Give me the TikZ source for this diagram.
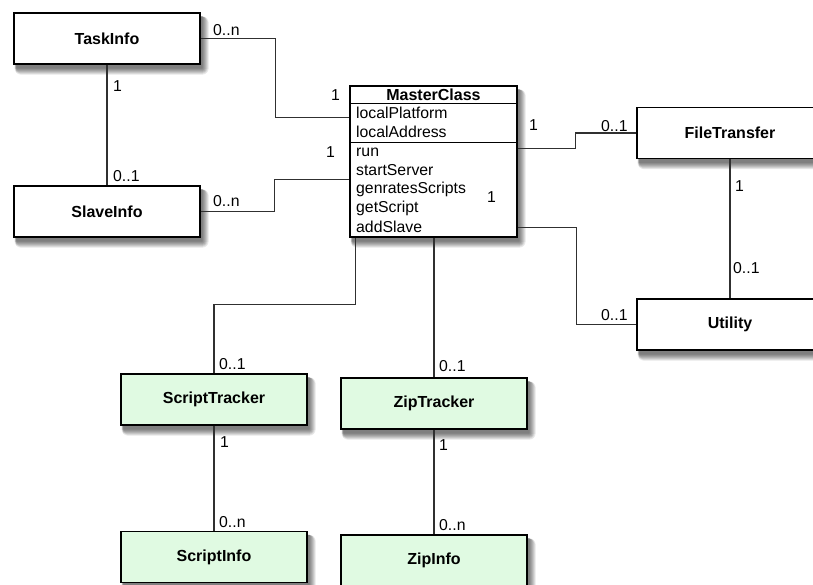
\documentclass[tikz,border=0pt]{standalone}
\usepackage{fontspec}
\setmainfont{Liberation Sans}
\usetikzlibrary{calc}

\definecolor{wirecol}{RGB}{48,48,48}
\definecolor{mint}{RGB}{224,250,226}

\pgfdeclarelayer{shadowlayer}
\pgfsetlayers{shadowlayer,main}

\tikzset{
  classbox/.style={draw=black, line width=1.3pt, fill=white,
    minimum width=186pt, minimum height=51pt, inner sep=0pt,
    font=\fontsize{16}{19}\selectfont\bfseries},
  trackbox/.style={classbox, fill=mint},
  wire/.style={draw=wirecol, line width=1.2pt},
  mult/.style={anchor=west, inner sep=0pt, font=\fontsize{15.8}{19}\selectfont},
  member/.style={anchor=west, inner sep=0pt, font=\fontsize{15.8}{19}\selectfont},
  shadelayer/.style={fill=black, fill opacity=0.095},
}

% soft drop shadow behind a named box: nested translucent rectangles
\newcommand\boxshade[1]{%
  \begin{pgfonlayer}{shadowlayer}
    \foreach \e in {0,...,6}{%
      \fill[shadelayer, rounded corners=\e pt+0.5pt]
        ($(#1.north west)+(3-0.3*\e,4)$) rectangle ($(#1.south east)+(2+\e,4+\e)$);
    }
  \end{pgfonlayer}}

\begin{document}
\begin{tikzpicture}[x=1pt, y=-1pt]
  \useasboundingbox (0,0) rectangle (813,585);

  % plain classes
  \node[classbox] (task)  at (107,38.5)  {TaskInfo};
  \node[classbox] (slave) at (107,211.5) {SlaveInfo};
  \node[classbox] (ft)    at (730,133)   {FileTransfer};
  \node[classbox] (util)  at (730,324.5) {Utility};

  % tracker classes
  \node[trackbox] (st) at (214,399.5) {ScriptTracker};
  \node[trackbox] (zt) at (434,403.5) {ZipTracker};
  \node[trackbox] (si) at (214,557)   {ScriptInfo};
  \node[trackbox] (zi) at (434,560.5) {ZipInfo};

  % the master class with its attribute and method compartments
  \node[classbox, minimum width=167pt, minimum height=151pt] (mc) at (433.5,161.5) {};
  \draw[line width=1.3pt] ($(mc.north west)+(0,18)$) -- ($(mc.north east)+(0,18)$);
  \draw[line width=1.3pt] ($(mc.north west)+(0,57)$) -- ($(mc.north east)+(0,57)$);
  \node[font=\fontsize{16}{19}\selectfont\bfseries, inner sep=0pt] (mctitle) at (433.5,95) {MasterClass};
  \node[member] (a1) at (356,113) {localPlatform};
  \node[member] (a2) at (356,132) {localAddress};
  \node[member] (m1) at (356,152) {run};
  \node[member] (m2) at (356,170.5) {startServer};
  \node[member] (m3) at (356,189) {genratesScripts};
  \node[member] (m4) at (356,208) {getScript};
  \node[member] (m5) at (356,227) {addSlave};

  % shadows under every box
  \foreach \q in {task,slave,ft,util,st,zt,si,zi,mc}{\boxshade{\q}}

  % associations
  \draw[wire] (task.east) -| ($(mc.north west)+(-74,32)$) -- ($(mc.north west)+(0,32)$);
  \draw[wire] (slave.east) -| ($(mc.north west)+(-75,94)$) -- ($(mc.north west)+(0,94)$);
  \draw[wire] (task.south) -- (slave.north);
  \draw[wire] ($(mc.north east)+(0,63)$) -| ($(ft.west)+(-61,0)$) -- (ft.west);
  \draw[wire] ($(mc.north east)+(0,142)$) -| ($(util.west)+(-60,0)$) -- (util.west);
  \draw[wire] (ft.south) -- (util.north);
  \draw[wire] ($(mc.south west)+(6,0)$) |- ($(st.north)+(0,-69)$) -- (st.north);
  \draw[wire] (zt.north |- mc.south) -- (zt.north);
  \draw[wire] (st.south) -- (si.north);
  \draw[wire] (zt.south) -- (zi.north);

  % multiplicities
  \node[mult] (l1)  at (213,30)    {0..n};
  \node[mult] (l2)  at (331,95)    {1};
  \node[mult] (l3)  at (113,86)    {1};
  \node[mult] (l4)  at (113,176.5) {0..1};
  \node[mult] (l5)  at (213,201)   {0..n};
  \node[mult] (l6)  at (326,152)   {1};
  \node[mult] (l7)  at (487,197.5) {1};
  \node[mult] (l8)  at (529,125)   {1};
  \node[mult] (l9)  at (601,126)   {0..1};
  \node[mult] (l10) at (735,186)   {1};
  \node[mult] (l11) at (733,268)   {0..1};
  \node[mult] (l12) at (601,315)   {0..1};
  \node[mult] (l13) at (219,364)   {0..1};
  \node[mult] (l14) at (220,442)   {1};
  \node[mult] (l15) at (219,522)   {0..n};
  \node[mult] (l16) at (439,366)   {0..1};
  \node[mult] (l17) at (439,445)   {1};
  \node[mult] (l18) at (439,525)   {0..n};
\end{tikzpicture}
\end{document}
